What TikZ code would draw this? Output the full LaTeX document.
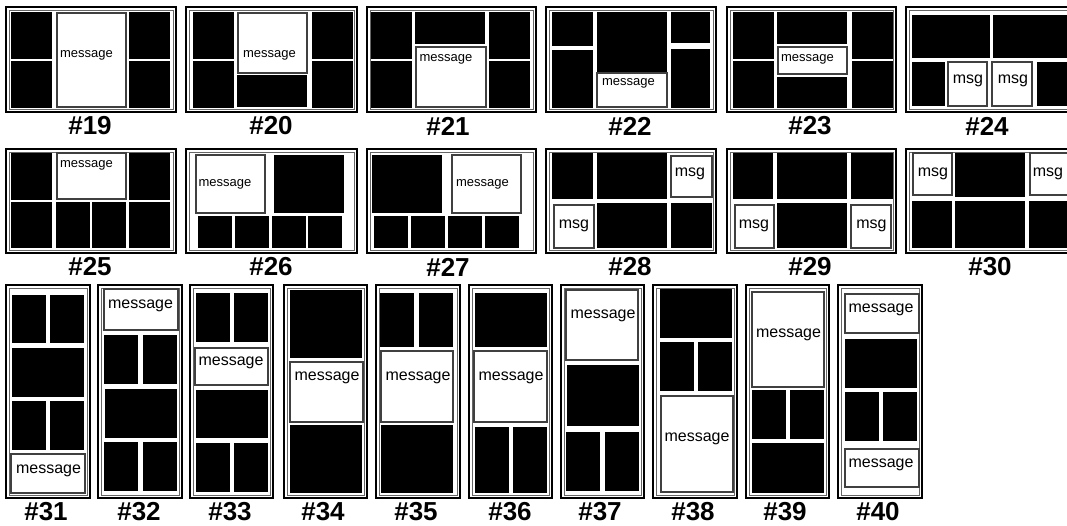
\documentclass[tikz,border=0pt]{standalone}
\usepackage{fontspec}
\setmainfont{Liberation Sans}
\begin{document}
\begin{tikzpicture}[x=0.75pt,y=-0.75pt,
  frameout/.style={draw=black,line width=1.7pt},
  framein/.style={draw=black!60,line width=0.7pt},
  blk/.style={fill=black},
  mbox/.style={draw=black!75,line width=0.8pt,fill=white},
  mtxt/.style={inner sep=0pt,font=\fontsize{9.75}{11}\selectfont},
  mtxtb/.style={inner sep=0pt,font=\fontsize{12}{14}\selectfont},
  lbl/.style={inner sep=0pt,font=\bfseries\fontsize{19.5}{21}\selectfont}]
\useasboundingbox (0,0) rectangle (1067,525);
\clip (0,0) rectangle (1067,525);
\newcommand\lfrm[4]{%
  \draw[frameout] ({#1+1.1},{#2+1.1}) rectangle ({#3-1.1},{#4-1.1});
  \draw[framein] ({#1+4},{#2+4}) rectangle ({#3-4},{#4-4});}
\newcommand\bx[4]{\fill[blk] (#1,#2) rectangle (#3,#4);}
\newcommand\mb[4]{\draw[mbox] (#1,#2) rectangle (#3,#4);}
% ---------- row 1 ----------
\lfrm{5}{6}{177}{113}
\bx{11}{12}{52}{59}\bx{11}{61}{52}{108}\mb{57}{13}{126}{107}\bx{129}{12}{170}{59}\bx{129}{61}{170}{108}
\node[mtxt] (m19) at (86.5,55) {message};
\lfrm{185}{6}{358}{113}
\bx{193}{12}{234}{59}\bx{193}{61}{234}{108}\mb{238}{13}{307}{73}\bx{237}{75}{307}{107}\bx{312}{12}{353}{59}\bx{312}{61}{353}{108}
\node[mtxt] (m20) at (269.5,55) {message};
\lfrm{366}{6}{537}{113}
\bx{371}{12}{412}{59}\bx{371}{61}{412}{108}\bx{415}{12}{485}{44}\mb{416}{47}{486}{107}\bx{489}{12}{530}{59}\bx{489}{61}{530}{108}
\node[mtxt] (m21) at (446,59) {message};
\lfrm{545}{6}{717}{113}
\bx{552}{12}{593}{46}\bx{552}{50}{593}{108}\bx{597}{12}{667}{72}\mb{597}{73}{667}{107}\bx{671}{12}{710}{43}\bx{671}{49}{710}{108}
\node[mtxt] (m22) at (628.5,83) {message};
\lfrm{726}{6}{897}{113}
\bx{733}{12}{774}{59}\bx{733}{61}{774}{108}\bx{777}{12}{847}{44}\mb{778}{47}{847}{74}\bx{777}{77}{847}{108}\bx{852}{12}{893}{59}\bx{852}{61}{893}{108}
\node[mtxt] (m23) at (807.5,59) {message};
\lfrm{905}{6}{1078}{113}
\bx{912}{15}{990}{58}\bx{993}{15}{1072}{58}\bx{912}{62}{945}{106}\mb{948}{62}{987}{106}\mb{992}{62}{1032}{106}\bx{1037}{62}{1072}{106}
\node[mtxtb] (m24a) at (968,81) {msg};
\node[mtxtb] (m24b) at (1013,81) {msg};
\node[lbl] (l19) at (90,126) {\#19};
\node[lbl] (l20) at (271,126) {\#20};
\node[lbl] (l21) at (448,126) {\#21};
\node[lbl] (l22) at (630,126) {\#22};
\node[lbl] (l23) at (810,126) {\#23};
\node[lbl] (l24) at (987,126) {\#24};
% ---------- row 2 ----------
\lfrm{5}{148}{177}{254}
\bx{11}{153}{52}{200}\mb{57}{153}{126}{199}\bx{129}{153}{170}{200}
\bx{11}{202}{52}{248}\bx{56}{202}{90}{248}\bx{92}{202}{126}{248}\bx{129}{202}{170}{248}
\node[mtxt] (m25) at (86.5,165) {message};
\lfrm{185}{148}{358}{254}
\mb{196}{155}{265}{213}\bx{274}{155}{344}{213}
\bx{198}{216}{232}{248}\bx{235}{216}{269}{248}\bx{272}{216}{306}{248}\bx{308}{216}{342}{248}
\node[mtxt] (m26) at (225,184) {message};
\lfrm{366}{148}{537}{254}
\bx{372}{155}{442}{213}\mb{452}{155}{521}{213}
\bx{374}{216}{408}{248}\bx{411}{216}{445}{248}\bx{448}{216}{482}{248}\bx{485}{216}{519}{248}
\node[mtxt] (m27) at (482.5,184) {message};
\lfrm{545}{148}{717}{254}
\bx{552}{153}{593}{199}\bx{597}{153}{667}{199}\mb{671}{156}{712}{197}
\mb{554}{205}{594}{248}\bx{597}{203}{667}{248}\bx{671}{203}{712}{248}
\node[mtxtb] (m28a) at (690,174) {msg};
\node[mtxtb] (m28b) at (574,226) {msg};
\lfrm{726}{148}{897}{254}
\bx{733}{153}{773}{199}\bx{777}{153}{847}{199}\bx{851}{153}{893}{199}
\mb{735}{205}{774}{248}\bx{777}{203}{847}{248}\mb{851}{205}{891}{248}
\node[mtxtb] (m29a) at (754,226) {msg};
\node[mtxtb] (m29b) at (871.5,226) {msg};
\lfrm{905}{148}{1078}{254}
\mb{913}{153}{952}{195}\bx{955}{153}{1025}{197}\mb{1030}{153}{1070}{195}
\bx{912}{201}{952}{248}\bx{955}{201}{1025}{248}\bx{1029}{201}{1072}{248}
\node[mtxtb] (m30a) at (933,174) {msg};
\node[mtxtb] (m30b) at (1048,174) {msg};
\node[lbl] (l25) at (90,267) {\#25};
\node[lbl] (l26) at (271,267) {\#26};
\node[lbl] (l27) at (448,267) {\#27};
\node[lbl] (l28) at (630,267) {\#28};
\node[lbl] (l29) at (810,267) {\#29};
\node[lbl] (l30) at (990,267) {\#30};
% ---------- row 3 ----------
\lfrm{5}{284}{91}{499}
\bx{12}{295}{46}{343}\bx{50}{295}{84}{343}\bx{12}{348}{84}{397}\bx{12}{401}{46}{450}\bx{50}{401}{84}{450}\mb{11}{454}{85}{493}
\node[mtxtb] (m31) at (48.5,471) {message};
\lfrm{97}{284}{183}{499}
\mb{104}{289}{178}{330}\bx{104}{335}{138}{384}\bx{143}{335}{177}{384}\bx{105}{389}{177}{438}\bx{104}{442}{138}{491}\bx{143}{442}{177}{491}
\node[mtxtb] (m32) at (140.5,306) {message};
\lfrm{189}{284}{274}{499}
\bx{196}{293}{230}{342}\bx{234}{293}{268}{342}\mb{195}{348}{268}{385}\bx{196}{390}{268}{438}\bx{196}{443}{230}{492}\bx{234}{443}{268}{492}
\node[mtxtb] (m33) at (231,363) {message};
\lfrm{283}{284}{368}{499}
\bx{290}{290}{362}{358}\mb{290}{362}{363}{422}\bx{290}{425}{362}{493}
\node[mtxtb] (m34) at (327,378) {message};
\lfrm{375}{284}{461}{499}
\bx{380}{293}{414}{347}\bx{419}{293}{453}{347}\mb{381}{351}{453}{422}\bx{381}{425}{453}{493}
\node[mtxtb] (m35) at (418,378) {message};
\lfrm{468}{284}{553}{499}
\bx{475}{293}{547}{347}\mb{474}{351}{547}{422}\bx{475}{427}{509}{493}\bx{513}{427}{547}{493}
\node[mtxtb] (m36) at (511,378) {message};
\lfrm{560}{284}{645}{499}
\mb{566}{290}{638}{360}\bx{567}{365}{639}{426}\bx{566}{432}{600}{491}\bx{605}{432}{639}{491}
\node[mtxtb] (m37) at (603,316) {message};
\lfrm{652}{284}{738}{499}
\bx{660}{289}{732}{338}\bx{660}{342}{694}{391}\bx{698}{342}{732}{391}\mb{661}{396}{733}{492}
\node[mtxtb] (m38) at (697,439) {message};
\lfrm{745}{284}{830}{499}
\mb{752}{292}{824}{387}\bx{752}{390}{786}{439}\bx{790}{390}{824}{439}\bx{752}{443}{824}{493}
\node[mtxtb] (m39) at (788.5,335) {message};
\lfrm{837}{284}{923}{499}
\mb{845}{294}{919}{333}\bx{845}{339}{917}{388}\bx{845}{392}{879}{441}\bx{883}{392}{917}{441}\mb{845}{449}{919}{487}
\node[mtxtb] (m40a) at (881,310) {message};
\node[mtxtb] (m40b) at (881,465) {message};
\node[lbl] (l31) at (46,512) {\#31};
\node[lbl] (l32) at (139,512) {\#32};
\node[lbl] (l33) at (230,512) {\#33};
\node[lbl] (l34) at (323,512) {\#34};
\node[lbl] (l35) at (416,512) {\#35};
\node[lbl] (l36) at (510,512) {\#36};
\node[lbl] (l37) at (600,512) {\#37};
\node[lbl] (l38) at (693,512) {\#38};
\node[lbl] (l39) at (785,512) {\#39};
\node[lbl] (l40) at (878,512) {\#40};
\end{tikzpicture}
\end{document}
